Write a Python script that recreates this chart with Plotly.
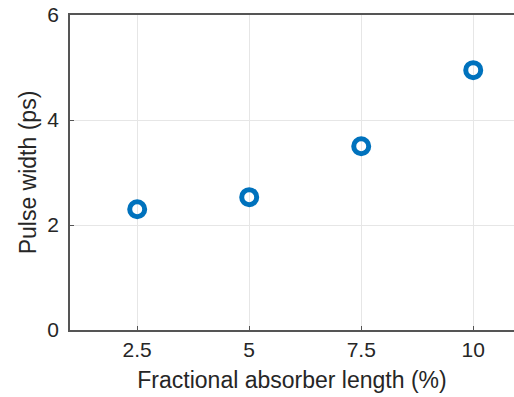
import plotly.graph_objects as go

# Pulse width versus fractional absorber length
absorber_length_pct = [2.5, 5, 7.5, 10]
pulse_width_ps = [2.30, 2.53, 3.50, 4.95]

x_ticks = [2.5, 5, 7.5, 10]
x_tick_labels = ["2.5", "5", "7.5", "10"]
y_ticks = [0, 2, 4, 6]

fig = go.Figure(
    go.Scatter(
        x=absorber_length_pct,
        y=pulse_width_ps,
        mode="markers",
        marker=dict(
            symbol="circle-open",
            size=15,
            color="#0072BD",
            line=dict(width=5, color="#0072BD"),
        ),
        showlegend=False,
    )
)

tick_font = dict(family="Liberation Sans, Arial, sans-serif", size=21, color="#262626")
title_font = dict(family="Liberation Sans, Arial, sans-serif", size=23, color="#262626")

fig.update_layout(
    width=514,
    height=397,
    margin=dict(l=70, r=0, t=15, b=67),
    plot_bgcolor="white",
    paper_bgcolor="white",
    font=tick_font,
)

fig.update_xaxes(
    range=[1, 10.91],
    tickvals=x_ticks,
    ticktext=x_tick_labels,
    showgrid=True,
    gridcolor="#e6e6e6",
    gridwidth=1,
    showline=True,
    linecolor="#555555",
    linewidth=1.5,
    mirror=True,
    ticks="inside",
    ticklen=4,
    tickcolor="#555555",
    zeroline=False,
    tickfont=tick_font,
    ticklabelstandoff=0,
    title=dict(text="Fractional absorber length (%)", font=title_font, standoff=12),
)

fig.update_yaxes(
    range=[0, 6],
    tickvals=y_ticks,
    showgrid=True,
    gridcolor="#e6e6e6",
    gridwidth=1,
    showline=True,
    linecolor="#555555",
    linewidth=1.5,
    mirror=False,
    ticks="inside",
    ticklen=4,
    tickcolor="#555555",
    zeroline=False,
    tickfont=tick_font,
    ticklabelstandoff=5,
    title=dict(text="Pulse width (ps)", font=title_font, standoff=4),
)

fig.write_html("out.html")
